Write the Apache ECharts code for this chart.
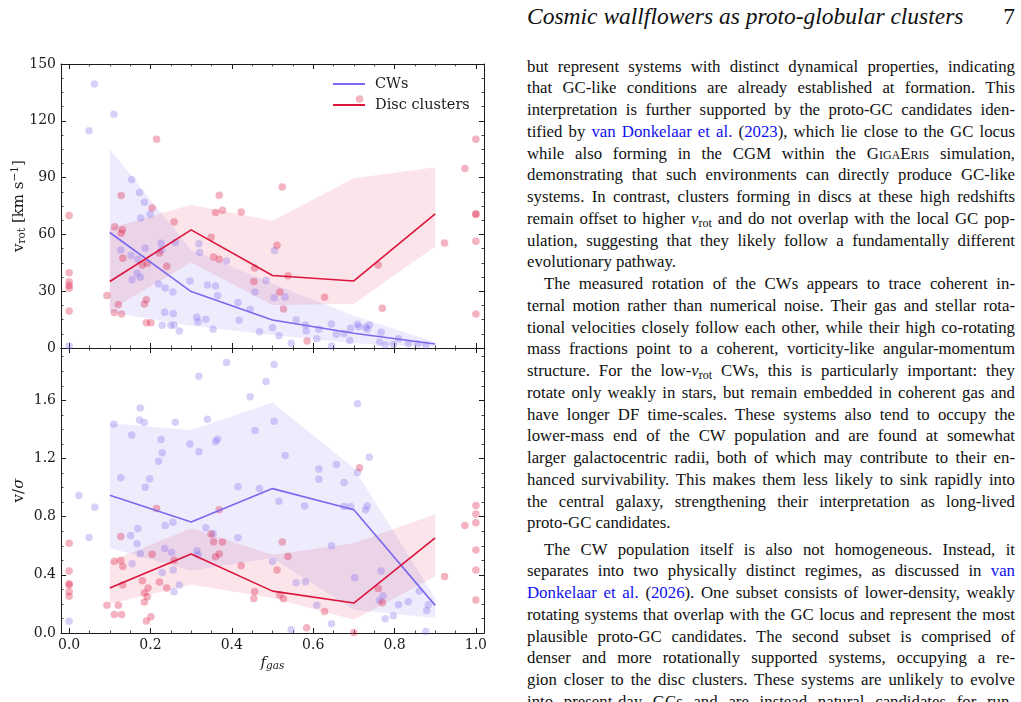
<!DOCTYPE html>
<html>
<head>
<meta charset="utf-8">
<script src="https://cdn.jsdelivr.net/npm/echarts@6/dist/echarts.min.js"></script>
<style>
  html, body { margin: 0; padding: 0; background: #fff; overflow: hidden; }
  #chart { position: absolute; left: 0; top: 0; width: 500px; height: 702px; }
  #text { font-family: "Liberation Serif", serif; color: #111; }
  .hdr { position: absolute; top: 2px; left: 527px; width: 488px; height: 28px;
         font-style: italic; font-size: 23.5px; line-height: 28px; }
  .hdr span { position: absolute; right: 0; font-style: normal; }
  .ln { position: absolute; left: 527px; width: 488px; height: 22px; line-height: 22px;
        font-size: 16.8px; text-align: justify; text-align-last: justify; }
  .ln.last { text-align-last: left; }
  .ln.ind { text-indent: 17px; }
  .ln a { color: #1010f0; text-decoration: none; }
  .ln .sc { font-variant: small-caps; }
  .ln sub { font-size: 12px; vertical-align: -3px; line-height: 0; }
</style>
</head>
<body>
<div id="chart"></div>
<div id="text"></div>
<script>
// bin centres of the running medians
const binX = [0.1, 0.3, 0.5, 0.7, 0.9];

// v_rot panel
const cwVrotMed = [61.0, 29.8, 14.8, 7.8, 2.1];
const cwVrotLo = [19.0, 11.8, 6.9, 2.5, 0.5];
const cwVrotHi = [105.0, 51.8, 34.0, 17.0, 3.0];
const discVrotMed = [35.1, 62.4, 38.3, 35.4, 70.9];
const discVrotLo = [20.0, 45.1, 22.7, 23.3, 53.6];
const discVrotHi = [63.3, 75.6, 67.2, 89.7, 95.5];

// v/sigma panel
const cwVsigMed = [0.948, 0.764, 0.993, 0.847, 0.19];
const cwVsigLo = [0.584, 0.43, 0.515, 0.16, 0.103];
const cwVsigHi = [1.442, 1.396, 1.586, 1.133, 0.24];
const discVsigMed = [0.309, 0.543, 0.288, 0.206, 0.654];
const discVsigLo = [0.201, 0.332, 0.24, 0.091, 0.389];
const discVsigHi = [0.492, 0.721, 0.538, 0.618, 0.817];

// individual objects [f_gas, value]
const cwVrotPts = [[0.062,139.4],[0.049,114.8],[0.110,123.4],[0.0,1],[0.154,89],[0.173,82.1],[0.185,77],[0.176,68.7],
  [0.199,70.7],[0.127,51.8],[0.226,55.3],[0.227,51.7],[0.261,55.7],[0.187,52.7],[0.169,46.9],[0.152,48.8],[0.167,39.5],
  [0.155,36.1],[0.175,37.4],[0.220,33.8],[0.297,35.4],[0.236,31.7],[0.255,29.6],[0.235,18.9],[0.256,18.2],[0.229,12],
  [0.25,12],[0.258,12.2],[0.271,9],[0.319,55],[0.321,50.4],[0.340,33.3],[0.360,32.8],[0.365,27.7],[0.387,46],[0.314,16.2],
  [0.317,13.9],[0.336,15.2],[0.354,9.9],[0.415,24],[0.418,14.6],[0.445,20.5],[0.505,51.5],[0.484,35.6],[0.457,29.6],
  [0.504,26.6],[0.531,27],[0.468,8.6],[0.516,6.5],[0.546,2.5],[0.5,10.7],[0.558,14.8],[0.581,12.2],[0.583,9],
  [0.614,9.9],[0.609,4.9],[0.645,12.7],[0.657,7.2],[0.676,7.6],[0.645,1],[0.692,10.4],[0.709,12.5],[0.712,11.2],[0.69,4],
  [0.729,10.9],[0.738,12.2],[0.733,9.9],[0.767,8.3],[0.763,3],[0.777,1.6],[0.797,1.8],[0.81,4.9],[0.834,2.3],[0.857,2.1],
  [0.877,1.6]];
const discVrotPts = [[0,70],[0,39.8],[0,35],[0,33],[0,31.5],[0,19.5],[0.093,27.7],[0.111,18.8],[0.121,22.9],[0.129,18],
  [0.112,64],[0.128,80.5],[0.128,60.6],[0.131,62.4],[0.132,47.4],[0.18,43.9],[0.192,44.8],[0.185,23.3],[0.19,25.5],
  [0.19,13.4],[0.201,13.4],[0.204,73.9],[0.215,110.2],[0.222,50.2],[0.240,43.2],[0.258,66.5],[0.349,58.5],[0.355,48.1],
  [0.360,71.6],[0.369,80.7],[0.369,46.9],[0.377,72.8],[0.423,71.8],[0.524,85.1],[0.511,54.3],[0.456,42.3],[0.454,35.1],
  [0.518,29.6],[0.538,38.2],[0.527,20.6],[0.628,26.8],[0.585,3.7],[0.76,43.9],[0.77,21],[0.714,131.5],[0.923,55.5],
  [0.973,94.8],[1.0,110.3],[1.0,70.9],[1.0,70.5],[1.0,56.4],[1.0,18]];
const cwVsigPts = [[0,0.08],[0.024,0.945],[0.063,0.865],[0.049,0.657],[0.110,1.438],[0.127,1.067],[0.154,1.362],
  [0.173,1.465],[0.175,1.547],[0.185,1.447],[0.187,1.003],[0.198,1.06],[0.169,0.718],[0.167,0.613],[0.151,0.670],
  [0.175,0.545],[0.155,0.476],[0.22,1.181],[0.226,1.33],[0.229,1.24],[0.236,0.739],[0.235,0.581],[0.229,0.416],
  [0.255,0.762],[0.252,0.554],[0.256,0.433],[0.258,0.284],[0.261,1.449],[0.271,0.33],[0.297,1.3],[0.319,1.765],
  [0.319,1.247],[0.314,0.565],[0.317,0.538],[0.336,0.723],[0.34,1.47],[0.354,0.684],[0.36,1.316],[0.365,1.332],
  [0.387,1.861],[0.415,1.005],[0.415,0.655],[0.445,1.625],[0.484,1.73],[0.504,1.847],[0.457,1.392],[0.504,1.456],
  [0.531,1.22],[0.468,0.993],[0.516,0.906],[0.5,0.492],[0.558,0.345],[0.581,0.352],[0.579,0.874],[0.546,0.022],
  [0.609,0.19],[0.614,1.128],[0.614,1.057],[0.645,0.6],[0.657,1.158],[0.676,1.035],[0.676,0.87],[0.692,0.87],
  [0.645,0.064],[0.702,0.38],[0.709,1.577],[0.709,1.103],[0.738,1.209],[0.729,0.847],[0.733,0.874],[0.767,0.426],
  [0.772,0.256],[0.763,0.224],[0.777,0.098],[0.797,0.119],[0.81,0.194],[0.834,0.215],[0.861,0.288],[0.879,0.155],
  [0.883,0.194],[0.877,0.011]];
const discVsigPts = [[0,0.618],[0,0.426],[0,0.339],[0,0.33],[0,0.284],[0,0.252],[0.093,0.19],[0.111,0.494],[0.121,0.19],
  [0.111,0.128],[0.129,0.128],[0.127,0.664],[0.127,0.499],[0.132,0.457],[0.132,0.33],[0.18,0.359],[0.185,0.275],
  [0.192,0.249],[0.194,0.309],[0.185,0.213],[0.19,0.082],[0.201,0.112],[0.204,0.542],[0.215,0.856],[0.222,0.35],
  [0.24,0.309],[0.258,0.501],[0.349,0.68],[0.355,0.627],[0.36,0.524],[0.369,0.847],[0.369,0.543],[0.377,0.625],
  [0.423,0.462],[0.524,0.625],[0.538,0.526],[0.511,0.433],[0.456,0.286],[0.454,0.238],[0.518,0.261],[0.527,0.236],
  [0.584,0.036],[0.628,0.148],[0.714,1.137],[0.7,0.004],[0.76,0.306],[0.77,0.208],[0.923,0.389],[0.973,0.739],
  [1.0,0.876],[1.0,0.819],[1.0,0.759],[1.0,0.571],[1.0,0.433],[1.0,0.227]];

// tick positions / labels
const xMajor = [0, 0.2, 0.4, 0.6, 0.8, 1.0];
const xMinor = [0.05, 0.1, 0.15, 0.25, 0.3, 0.35, 0.45, 0.5, 0.55, 0.65, 0.7, 0.75, 0.85, 0.9, 0.95];
const vrotMajor = [0, 30, 60, 90, 120, 150];
const vrotMinor = [7.5, 15, 22.5, 37.5, 45, 52.5, 67.5, 75, 82.5, 97.5, 105, 112.5, 127.5, 135, 142.5];
const vsigMajor = [0, 0.4, 0.8, 1.2, 1.6];
const vsigMinor = [0.1, 0.2, 0.3, 0.5, 0.6, 0.7, 0.9, 1.0, 1.1, 1.3, 1.4, 1.5, 1.7, 1.8, 1.9];

const CW = '#7b68ee';
const DISC = '#dc143c';
const FONT = 'DejaVu Serif';
const INK = '#1a1a1a';

// one axis drawn as a major + a minor layer (ticks inside)
function axisPair(gridIndex, pos, min, max, major, minor, labels, fmt) {
  const base = {
    type: 'value', gridIndex: gridIndex, position: pos, min: min, max: max,
    splitLine: { show: false },
    axisLine: { show: true, onZero: false, lineStyle: { color: INK, width: 1 } },
  };
  const maj = Object.assign({}, base, {
    axisTick: { show: true, inside: true, length: 5, customValues: major, lineStyle: { color: INK, width: 1 } },
    axisLabel: labels
      ? { show: true, customValues: major, formatter: fmt, fontFamily: FONT, fontSize: 14, color: INK, margin: 5 }
      : { show: false },
  });
  const min_ = Object.assign({}, base, {
    axisLine: { show: false, onZero: false },
    axisTick: { show: true, inside: true, length: 2.5, customValues: minor, lineStyle: { color: INK, width: 0.8 } },
    axisLabel: { show: false },
  });
  return [maj, min_];
}

const fx = v => v.toFixed(1);
const fi = v => String(Math.round(v));

const xAxis = [].concat(
  axisPair(0, 'bottom', -0.02, 1.02, xMajor, xMinor, false),
  axisPair(0, 'top', -0.02, 1.02, xMajor, xMinor, false),
  axisPair(1, 'bottom', -0.02, 1.02, xMajor, xMinor, true, fx),
  axisPair(1, 'top', -0.02, 1.02, xMajor, xMinor, false)
);
const yAxis = [].concat(
  axisPair(0, 'left', 0, 150, vrotMajor, vrotMinor, true, fi),
  axisPair(0, 'right', 0, 150, vrotMajor, vrotMinor, false),
  axisPair(1, 'left', 0, 1.96, vsigMajor, vsigMinor, true, fx),
  axisPair(1, 'right', 0, 1.96, vsigMajor, vsigMinor, false)
);

// axis titles
Object.assign(xAxis[4], {
  name: '{f|f}{s|gas}', nameLocation: 'middle', nameGap: 21, nameMoveOverlap: false,
  nameTextStyle: { fontFamily: FONT, fontSize: 15, color: INK,
    rich: { f: { fontFamily: FONT, fontSize: 15, fontStyle: 'italic', color: INK },
            s: { fontFamily: FONT, fontSize: 10.5, fontStyle: 'italic', color: INK, padding: [7, 0, 0, 0] } } },
});
Object.assign(yAxis[0], {
  name: '{a|v}{s|rot}{a| [km s}{p|\u22121}{a|]}', nameLocation: 'middle', nameRotate: 90, nameGap: 33,
  nameMoveOverlap: false,
  nameTextStyle: { fontFamily: FONT, fontSize: 15, color: INK,
    rich: { a: { fontFamily: FONT, fontSize: 15, color: INK },
            s: { fontFamily: FONT, fontSize: 10.5, color: INK, padding: [7, 0, 0, 0] },
            p: { fontFamily: FONT, fontSize: 10.5, color: INK, padding: [0, 0, 7, 0] } } },
});
Object.assign(yAxis[4], {
  name: '{a|v/}{b|\u03c3}', nameLocation: 'middle', nameRotate: 90, nameGap: 34, nameMoveOverlap: false,
  nameTextStyle: { fontFamily: FONT, fontSize: 15, color: INK,
    rich: { a: { fontFamily: FONT, fontSize: 15, color: INK },
            b: { fontFamily: FONT, fontSize: 15, fontStyle: 'italic', color: INK } } },
});

function pairs(ys) { return binX.map((x, i) => [x, ys[i]]); }

// shaded percentile band: one polygon through the axis scales
function band(g, lo, hi, fill) {
  return {
    type: 'custom', xAxisIndex: g * 4, yAxisIndex: g * 4, silent: true, z: 1,
    data: binX.map((x, i) => [x, lo[i], hi[i]]),
    encode: { x: 0, y: [1, 2] },
    renderItem: function (params, api) {
      if (params.dataIndex !== 0) return null;
      const top = binX.map((x, i) => api.coord([x, hi[i]]));
      const bot = binX.map((x, i) => api.coord([x, lo[i]])).reverse();
      return { type: 'polygon', shape: { points: top.concat(bot) }, style: { fill: fill } };
    },
  };
}
function pts(name, g, data, color) {
  return { type: 'scatter', name: name, xAxisIndex: g * 4, yAxisIndex: g * 4, data: data,
    symbol: 'circle', symbolSize: 7.5, itemStyle: { color: color }, silent: true, z: 2 };
}
function med(name, g, data, color) {
  return { type: 'line', name: name, xAxisIndex: g * 4, yAxisIndex: g * 4, data: pairs(data),
    symbol: 'none', lineStyle: { color: color, width: 1.6 }, itemStyle: { color: color }, z: 3 };
}

const CW_BAND = 'rgba(123,104,238,0.13)';
const DISC_BAND = 'rgba(220,20,60,0.11)';
const CW_PT = 'rgba(123,104,238,0.38)';
const DISC_PT = 'rgba(220,20,60,0.4)';

const series = [
  band(0, cwVrotLo, cwVrotHi, CW_BAND),
  band(0, discVrotLo, discVrotHi, DISC_BAND),
  band(1, cwVsigLo, cwVsigHi, CW_BAND),
  band(1, discVsigLo, discVsigHi, DISC_BAND),
  pts('cw-vrot', 0, cwVrotPts, CW_PT), pts('disc-vrot', 0, discVrotPts, DISC_PT),
  pts('cw-vsig', 1, cwVsigPts, CW_PT), pts('disc-vsig', 1, discVsigPts, DISC_PT),
  med('CWs', 0, cwVrotMed, CW), med('Disc clusters', 0, discVrotMed, DISC),
  med('CWs', 1, cwVsigMed, CW), med('Disc clusters', 1, discVsigMed, DISC),
];

const chart = echarts.init(document.getElementById('chart'));
chart.setOption({
  animation: false,
  backgroundColor: '#fff',
  grid: [
    { left: 61, top: 64, width: 423, height: 284, outerBoundsMode: 'none' },
    { left: 61, top: 348, width: 423, height: 285, outerBoundsMode: 'none' },
  ],
  legend: {
    data: [{ name: 'CWs', icon: 'rect' }, { name: 'Disc clusters', icon: 'rect' }],
    orient: 'vertical', left: 333, top: 75, padding: 0, itemWidth: 32, itemHeight: 2, itemGap: 3,
    selectedMode: false,
    textStyle: { fontFamily: FONT, fontSize: 14.5, color: INK, lineHeight: 18, padding: [0, 0, 0, 5] },
  },
  xAxis: xAxis,
  yAxis: yAxis,
  series: series,
});

// text column of the page
const lines = [
  ['but represent systems with distinct dynamical properties, indicating', ''],
  ['that GC-like conditions are already established at formation. This', ''],
  ['interpretation is further supported by the proto-GC candidates iden-', ''],
  ['tified by <a>van Donkelaar et al.</a> (<a>2023</a>), which lie close to the GC locus', ''],
  ['while also forming in the CGM within the <span class="sc">GigaEris</span> simulation,', ''],
  ['demonstrating that such environments can directly produce GC-like', ''],
  ['systems. In contrast, clusters forming in discs at these high redshifts', ''],
  ['remain offset to higher <i>v</i><sub>rot</sub> and do not overlap with the local GC pop-', ''],
  ['ulation, suggesting that they likely follow a fundamentally different', ''],
  ['evolutionary pathway.', 'last'],
  ['The measured rotation of the CWs appears to trace coherent in-', 'ind'],
  ['ternal motion rather than numerical noise. Their gas and stellar rota-', ''],
  ['tional velocities closely follow each other, while their high co-rotating', ''],
  ['mass fractions point to a coherent, vorticity-like angular-momentum', ''],
  ['structure. For the low-<i>v</i><sub>rot</sub> CWs, this is particularly important: they', ''],
  ['rotate only weakly in stars, but remain embedded in coherent gas and', ''],
  ['have longer DF time-scales. These systems also tend to occupy the', ''],
  ['lower-mass end of the CW population and are found at somewhat', ''],
  ['larger galactocentric radii, both of which may contribute to their en-', ''],
  ['hanced survivability. This makes them less likely to sink rapidly into', ''],
  ['the central galaxy, strengthening their interpretation as long-lived', ''],
  ['proto-GC candidates.', 'last'],
  ['The CW population itself is also not homogeneous. Instead, it', 'ind'],
  ['separates into two physically distinct regimes, as discussed in <a>van</a>', ''],
  ['<a>Donkelaar et al.</a> (<a>2026</a>). One subset consists of lower-density, weakly', ''],
  ['rotating systems that overlap with the GC locus and represent the most', ''],
  ['plausible proto-GC candidates. The second subset is comprised of', ''],
  ['denser and more rotationally supported systems, occupying a re-', ''],
  ['gion closer to the disc clusters. These systems are unlikely to evolve', ''],
  ['into present-day GCs and are instead natural candidates for run-', ''],
];
let html = '<div class="hdr">Cosmic wallflowers as proto-globular clusters<span>7</span></div>';
lines.forEach((l, i) => {
  const centre = i < 22 ? 66.5 + i * 21.75 : 549.5 + (i - 22) * 21.75;
  html += '<div class="ln ' + l[1] + '" style="top:' + (centre - 11).toFixed(2) + 'px">' +
          '<span style="white-space:nowrap">' + l[0] + '</span></div>';
});
document.getElementById('text').innerHTML = html;

// squeeze word spaces on lines that are too long for the column, like TeX does
document.querySelectorAll('.ln').forEach(el => {
  const span = el.firstChild;
  const avail = 488 - (el.classList.contains('ind') ? 17 : 0) - 1;
  const w = span.getBoundingClientRect().width;
  const gaps = (span.textContent.match(/ /g) || []).length;
  if (w > avail && gaps) el.style.wordSpacing = (-(w - avail) / gaps).toFixed(2) + 'px';
  span.style.whiteSpace = 'normal';
});
</script>
</body>
</html>
